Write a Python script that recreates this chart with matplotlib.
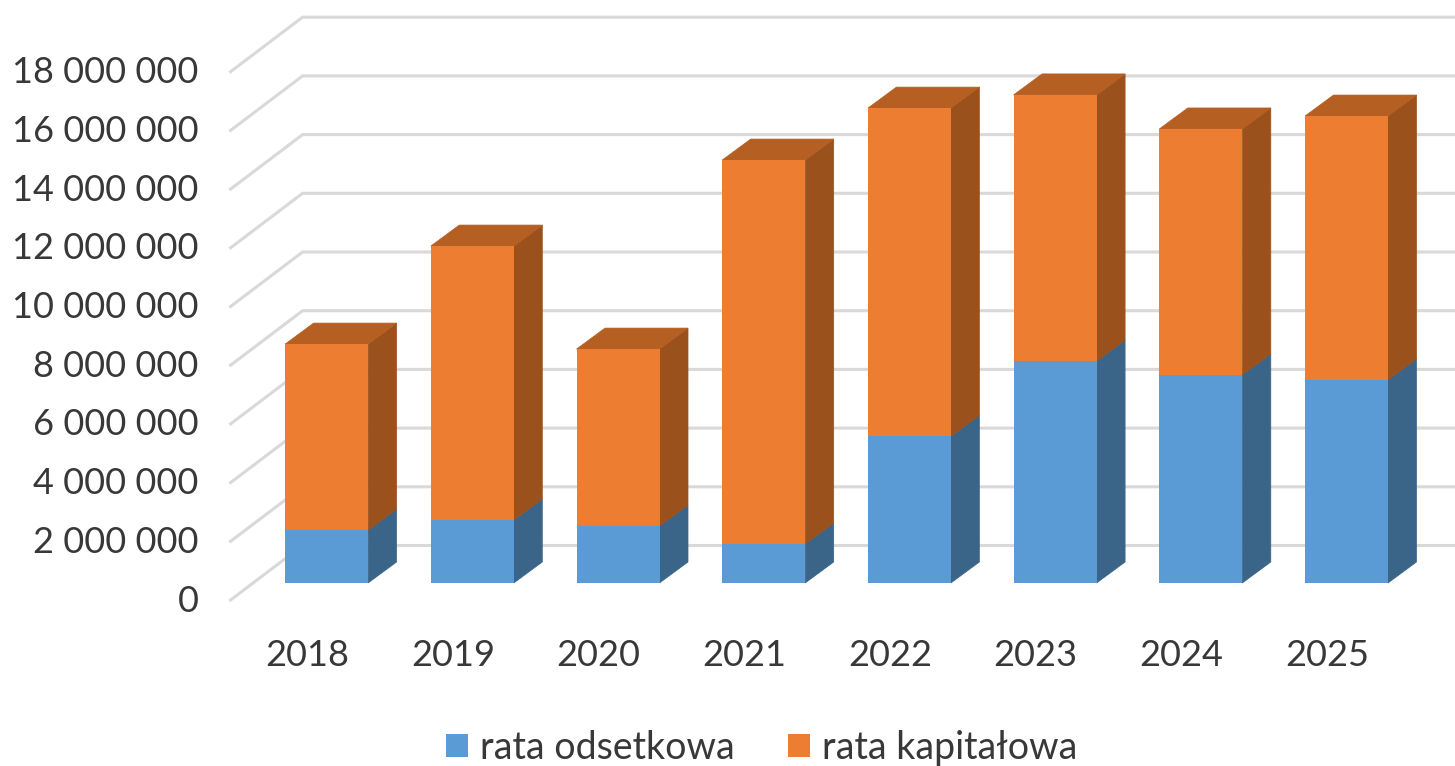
import matplotlib
matplotlib.use('Agg')
import matplotlib.pyplot as plt
from matplotlib.patches import Patch

years = ['2018', '2019', '2020', '2021', '2022', '2023', '2024', '2025']
interest = [1800000, 2150000, 1940000, 1330000, 5000000, 7560000, 7090000, 6920000]
totals = [8140000, 11480000, 7970000, 14410000, 16180000, 16630000, 15470000, 15910000]
capital = [t - i for t, i in zip(totals, interest)]
ticks = list(range(0, 18000001, 2000000))
tick_labels = [f'{t:,}'.replace(',', ' ') for t in ticks]
series_names = ['rata odsetkowa', 'rata kapitałowa']

plt.rcParams['font.family'] = ['Lato', 'DejaVu Sans']
TEXT = '#383838'
GRID = '#d9d9d9'
BLUE, BLUE_SIDE = '#5b9bd5', '#3a6488'
ORANGE, ORANGE_SIDE, ORANGE_TOP = '#ed7d31', '#9a511c', '#b65f22'

W, H = 1455, 766
# scale: one category = 145.7 px, 2 000 000 = 58.7 px
px_x = 1 / 145.7
px_y = 2000000 / 58.7

fig = plt.figure(figsize=(W / 100, H / 100), dpi=100)
ax = fig.add_axes([0, 0, 1, 1])
ax.set_xlim(-326.6 * px_x, (W - 326.6) * px_x)
ax.set_ylim(-(H - 583) * px_y, 583 * px_y)
ax.axis('off')

# walls: front edge of the floor, then the back wall
front_x, back_x, right_x = -96 * px_x, -24 * px_x, (W - 326.6) * px_x
front_dy, back_dy = -17 * px_y, 37.5 * px_y
for t in ticks:
    ax.plot([front_x, back_x, right_x], [t + front_dy, t + back_dy, t + back_dy],
            color=GRID, lw=2.2, solid_joinstyle='miter', zorder=1)

# fake 3d bars
bar_w = 83 * px_x
depth_x, depth_y = 28.5 * px_x, 21 * px_y
for i in range(len(years)):
    left, right = i - bar_w / 2, i + bar_w / 2
    low, top = interest[i], totals[i]
    ax.fill([right, right + depth_x, right + depth_x, right],
            [0, depth_y, low + depth_y, low], fc=BLUE_SIDE, ec=BLUE_SIDE, lw=0.5, zorder=2)
    ax.fill([right, right + depth_x, right + depth_x, right],
            [low, low + depth_y, top + depth_y, top], fc=ORANGE_SIDE, ec=ORANGE_SIDE, lw=0.5, zorder=2)
    ax.fill([left, left + depth_x, right + depth_x, right],
            [top, top + depth_y, top + depth_y, top], fc=ORANGE_TOP, ec=ORANGE_TOP, lw=0.5, zorder=2)

x = range(len(years))
ax.bar(x, interest, width=bar_w, color=BLUE, lw=0, zorder=3)
ax.bar(x, capital, bottom=interest, width=bar_w, color=ORANGE, lw=0, zorder=3)

for t, lab in zip(ticks, tick_labels):
    ax.text(-128 * px_x, t - 15 * px_y, lab, ha='right', va='center_baseline',
            fontsize=26, color=TEXT)
for i, y in enumerate(years):
    ax.text(i - 19.5 * px_x, -69 * px_y, y, ha='center', va='center_baseline',
            fontsize=26, color=TEXT)

handles = [Patch(color=BLUE, lw=0), Patch(color=ORANGE, lw=0)]
ax.legend(handles, series_names, loc='lower center', bbox_to_anchor=(0.5234, -0.024),
          ncol=2, frameon=False, fontsize=27, labelcolor=TEXT, handlelength=0.587,
          handleheight=0.587, handletextpad=0.32, columnspacing=1.41, borderpad=0)

fig.savefig('out.png', dpi=100)
